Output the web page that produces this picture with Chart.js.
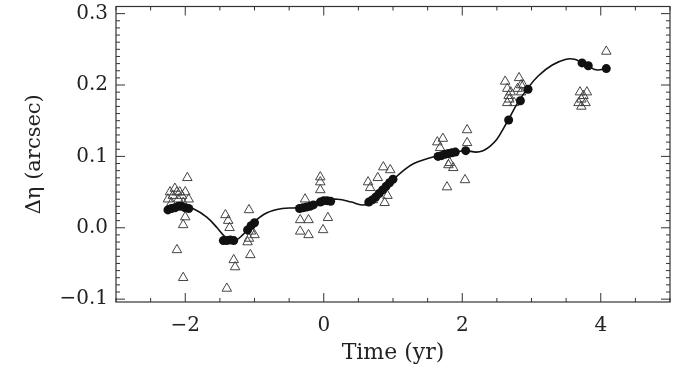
<!DOCTYPE html>
<html>
<head>
<meta charset="utf-8">
<script src="https://cdn.jsdelivr.net/npm/chart.js@4"></script>
<style>
  html, body { margin: 0; padding: 0; background: #fff; }
  #wrap { width: 692px; height: 368px; }
</style>
</head>
<body>
<div id="wrap"><canvas id="chart"></canvas></div>
<script>
// Tick labels
const xTicks = [-2, 0, 2, 4];
const yTicks = [-0.1, 0.0, 0.1, 0.2, 0.3];

// Filled circles (measured positions)
const circX = [-2.25, -2.2, -2.15, -2.1, -2.05, -2.0, -1.95,
  -1.45, -1.4, -1.35, -1.3, -1.1, -1.05, -1.0,
  -0.35, -0.3, -0.25, -0.2, -0.15, -0.05, 0.0, 0.05, 0.1,
  0.65, 0.7, 0.75, 0.8, 0.85, 0.9, 0.95, 1.0,
  1.65, 1.7, 1.75, 1.8, 1.85, 1.9, 2.05,
  2.67, 2.84, 2.95, 3.73, 3.82, 4.08];
const circY = [0.025, 0.027, 0.028, 0.03, 0.03, 0.028, 0.027,
  -0.018, -0.018, -0.017, -0.018, -0.003, 0.003, 0.007,
  0.027, 0.028, 0.029, 0.03, 0.032, 0.036, 0.038, 0.038, 0.037,
  0.036, 0.039, 0.043, 0.048, 0.053, 0.058, 0.063, 0.068,
  0.1, 0.101, 0.103, 0.104, 0.105, 0.106, 0.108,
  0.151, 0.178, 0.194, 0.231, 0.227, 0.223];

// Open triangles
const triX = [-2.25, -2.22, -2.18, -2.15, -2.12, -2.1, -2.08, -2.05, -2.03, -2.0, -1.97, -1.95, -2.2, -2.03, -2.0, -2.12, -2.03,
  -1.42, -1.38, -1.36, -1.3, -1.28, -1.4, -1.08, -1.05, -1.08, -1.0, -1.06, -1.1,
  -0.34, -0.22, -0.34, -0.22, -0.27, -0.05, -0.05, -0.05, 0.06, -0.01,
  0.64, 0.67, 0.71, 0.86, 0.96, 0.88, 0.78, 0.92,
  1.64, 1.72, 2.07, 2.07, 1.8, 1.87, 1.82, 1.78, 2.04, 1.68,
  2.62, 2.65, 2.67, 2.65, 2.7, 2.68, 2.82, 2.85, 2.8, 2.85, 2.88, 2.75,
  3.7, 3.72, 3.72, 3.75, 3.78, 3.8, 3.68, 4.08];
const triY = [0.04, 0.05, 0.045, 0.055, 0.05, 0.04, 0.05, 0.045, 0.035, 0.05, 0.07, 0.04, 0.035, 0.004, 0.015, -0.031, -0.07,
  0.018, 0.01, 0.0, -0.045, -0.055, -0.085, 0.025, -0.005, -0.015, -0.01, -0.038, -0.02,
  0.011, 0.011, -0.005, -0.01, 0.04, 0.071, 0.064, 0.053, 0.014, -0.003,
  0.064, 0.056, 0.039, 0.085, 0.081, 0.035, 0.07, 0.045,
  0.12, 0.125, 0.137, 0.119, 0.088, 0.084, 0.091, 0.057, 0.067, 0.112,
  0.205, 0.195, 0.185, 0.175, 0.19, 0.18, 0.21, 0.2, 0.195, 0.19, 0.2, 0.175,
  0.19, 0.18, 0.17, 0.185, 0.175, 0.19, 0.175, 0.247];

// Smooth model curve
const curveX = [-2.25, -2.0, -1.89, -1.69, -1.54, -1.42, -1.31, -1.17, -1.02, -0.82, -0.6, -0.4, -0.2, 0.0, 0.2, 0.4, 0.55, 0.65,
  0.8, 0.9, 1.0, 1.15, 1.3, 1.5, 1.7, 1.9, 2.05, 2.2, 2.3, 2.4, 2.5, 2.6, 2.67, 2.8, 2.95, 3.1, 3.3, 3.5, 3.62, 3.73, 3.84, 3.95, 4.08];
const curveY = [0.027, 0.029, 0.027, 0.015, 0.0, -0.013, -0.019, -0.01, 0.007, 0.021, 0.027, 0.028, 0.031, 0.038, 0.04, 0.036, 0.032, 0.034,
  0.046, 0.056, 0.067, 0.08, 0.09, 0.097, 0.102, 0.106, 0.108, 0.106, 0.108, 0.114, 0.124, 0.14, 0.152, 0.175, 0.196, 0.213, 0.228, 0.236, 0.236, 0.231, 0.225, 0.221, 0.223];

const toPts = (xs, ys) => xs.map((x, i) => ({ x: x, y: ys[i] }));
const minus = s => s.replace('-', '\u2212');

// Frame with inward ticks, IDL style
const framePlugin = {
    id: 'frame',
    afterDatasetsDraw(chart) {
        const { ctx, chartArea: a, scales } = chart;
        const xs = scales.x, ys = scales.y;
        ctx.save();
        ctx.strokeStyle = '#333';
        ctx.lineWidth = 1.2;
        ctx.strokeRect(a.left, a.top, a.right - a.left, a.bottom - a.top);
        ctx.lineWidth = 1;
        ctx.beginPath();
        for (let k = -6; k <= 10; k++) {
            const v = k / 2;
            const major = xTicks.includes(v);
            const len = major ? 9 : 4;
            const px = xs.getPixelForValue(v);
            ctx.moveTo(px, a.bottom); ctx.lineTo(px, a.bottom - len);
            ctx.moveTo(px, a.top); ctx.lineTo(px, a.top + len);
        }
        for (let k = -10; k <= 31; k++) {
            const major = k % 10 === 0;
            const len = major ? 9 : 4;
            const py = ys.getPixelForValue(k / 100);
            ctx.moveTo(a.left, py); ctx.lineTo(a.left + len, py);
            ctx.moveTo(a.right, py); ctx.lineTo(a.right - len, py);
        }
        ctx.stroke();
        ctx.restore();
    }
};

const serif = '"DejaVu Serif", serif';

new Chart(document.getElementById('chart'), {
    type: 'scatter',
    data: {
        datasets: [
            {
                label: 'curve',
                type: 'line',
                data: toPts(curveX, curveY),
                borderColor: '#111',
                borderWidth: 1.6,
                pointRadius: 0,
                tension: 0.4,
                fill: false,
                order: 2
            },
            {
                label: 'circles',
                data: toPts(circX, circY),
                pointStyle: 'circle',
                pointRadius: 4.5,
                backgroundColor: '#111',
                borderColor: '#111',
                borderWidth: 0,
                order: 1
            },
            {
                label: 'triangles',
                data: toPts(triX, triY),
                pointStyle: 'triangle',
                pointRadius: 5.5,
                backgroundColor: 'rgba(255,255,255,0)',
                borderColor: '#444',
                borderWidth: 1,
                order: 3
            }
        ]
    },
    options: {
        responsive: true,
        maintainAspectRatio: false,
        animation: false,
        layout: { padding: { top: 6, right: 22, left: 0, bottom: 0 } },
        plugins: {
            legend: { display: false },
            tooltip: { enabled: false }
        },
        scales: {
            x: {
                type: 'linear',
                min: -3,
                max: 5,
                grid: { display: false, drawTicks: false },
                border: { display: false },
                afterBuildTicks: s => { s.ticks = xTicks.map(v => ({ value: v })); },
                afterFit: s => { s.height = 66; s.paddingLeft = 0; s.paddingRight = 0; },
                ticks: {
                    padding: 12,
                    color: '#222',
                    font: { family: serif, size: 20 },
                    callback: v => minus(v.toFixed(0))
                },
                title: {
                    display: true,
                    text: 'Time (yr)',
                    color: '#222',
                    font: { family: serif, size: 22 },
                    padding: { top: 0, bottom: 2 }
                }
            },
            y: {
                type: 'linear',
                min: -0.104,
                max: 0.31,
                grid: { display: false, drawTicks: false },
                border: { display: false },
                afterBuildTicks: s => { s.ticks = yTicks.map(v => ({ value: v })); },
                afterFit: s => { s.width = 116; s.paddingTop = 0; s.paddingBottom = 0; },
                ticks: {
                    padding: 8,
                    color: '#222',
                    font: { family: serif, size: 20 },
                    callback: v => minus(v.toFixed(1))
                },
                title: {
                    display: true,
                    text: '\u0394\u03b7 (arcsec)',
                    color: '#222',
                    font: { family: serif, size: 21 },
                    padding: { top: 22, bottom: 0 }
                }
            }
        }
    },
    plugins: [framePlugin]
});
</script>
</body>
</html>
